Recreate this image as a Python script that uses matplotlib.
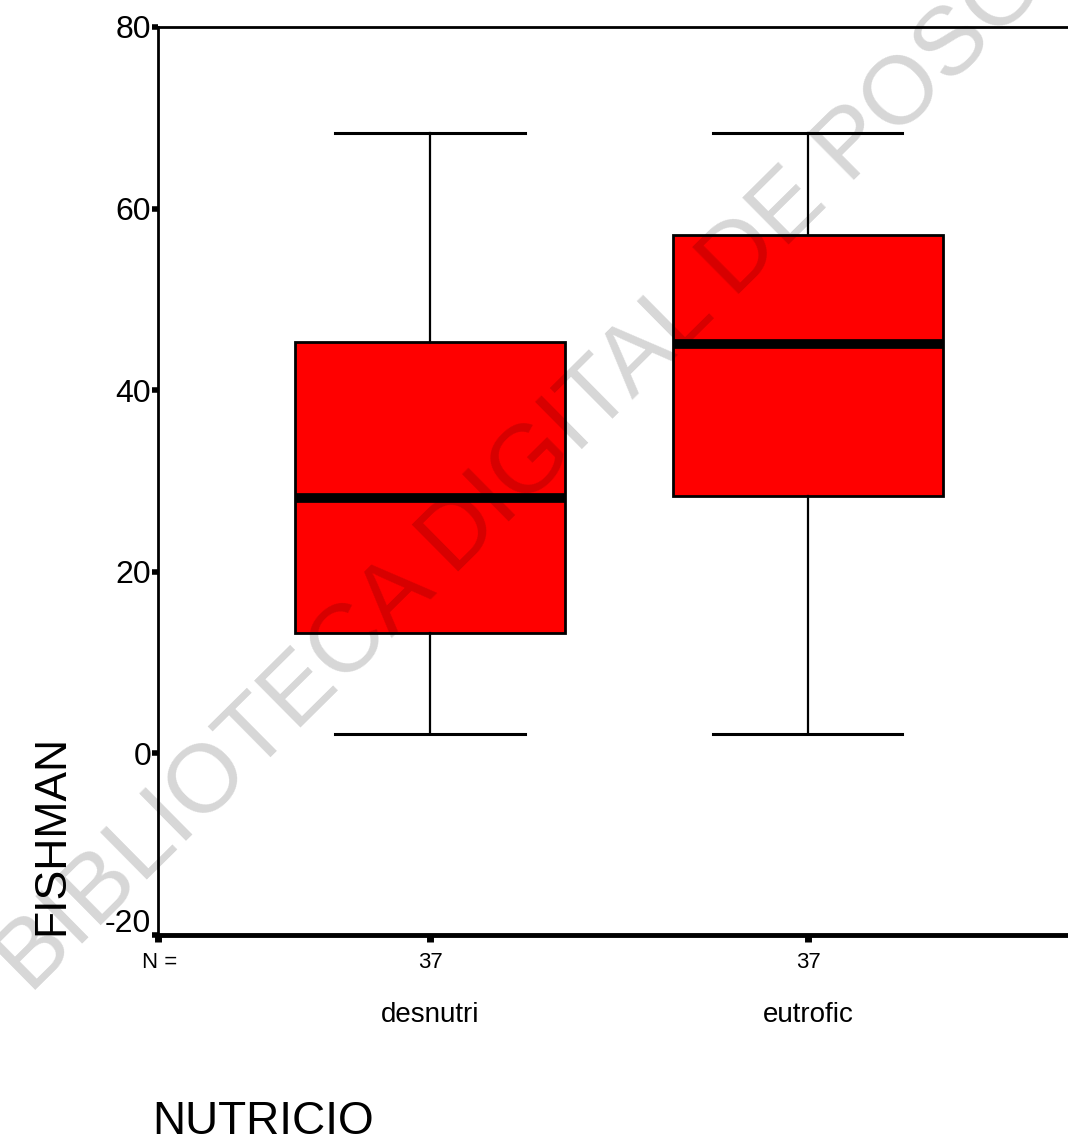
import matplotlib.pyplot as plt
import matplotlib.transforms as mtransforms

# datos (FISHMAN por grupo de NUTRICIO)
grupos = ['desnutri', 'eutrofic']
n_grupo = [37, 37]
bigote_bajo = [2.1, 2.1]
q1 = [13.3, 28.3]
mediana = [28.1, 45.1]
q3 = [45.3, 57.1]
bigote_alto = [68.3, 68.3]
y_ticks = [-20, 0, 20, 40, 60, 80]

plt.rcParams['font.family'] = ['Liberation Sans', 'DejaVu Sans']

fig = plt.figure(figsize=(10.68, 11.42), dpi=100)
ax = fig.add_axes([158 / 1068, 1 - 935 / 1142, 1 - 158 / 1068, (935 - 27) / 1142])

stats = []
for i, g in enumerate(grupos):
    stats.append({'label': g, 'whislo': bigote_bajo[i], 'q1': q1[i], 'med': mediana[i],
                  'q3': q3[i], 'whishi': bigote_alto[i], 'fliers': []})

ax.bxp(stats, positions=[1, 2], widths=0.714, capwidths=0.5, patch_artist=True,
       showfliers=False,
       boxprops=dict(facecolor='#ff0000', edgecolor='black', linewidth=2),
       medianprops=dict(color='black', linewidth=7, solid_capstyle='butt'),
       whiskerprops=dict(color='black', linewidth=1.6),
       capprops=dict(color='black', linewidth=2.2))

ax.set_xlim(1 - 272 / 378, 2 + 260 / 378)
ax.set_ylim(-20, 80)
ax.set_yticks(y_ticks)
ax.set_yticklabels([str(t) for t in y_ticks], fontsize=23)
ax.set_xticks([1 - 272 / 378, 1, 2])
ax.set_xticklabels(['', '', ''])
ax.tick_params(axis='y', direction='out', length=4, width=4, pad=1)
ax.tick_params(axis='x', direction='out', length=5, width=5)

# la etiqueta -20 va un poco por encima de su marca
lbl = ax.get_yticklabels()[0]
lbl.set_transform(lbl.get_transform() + mtransforms.ScaledTranslation(0, 15 / 100, fig.dpi_scale_trans))

ax.spines['right'].set_visible(False)
ax.spines['left'].set_linewidth(2)
ax.spines['top'].set_linewidth(2)
ax.spines['bottom'].set_linewidth(3.5)

# N = y etiquetas de grupo
fig.text(142 / 1068, 1 - 963 / 1142, 'N =', fontsize=16, ha='left', va='center')
for i, g in enumerate(grupos):
    ax.annotate(str(n_grupo[i]), xy=(i + 1, 0), xycoords=('data', 'axes fraction'),
                xytext=(0, -28), textcoords='offset pixels', ha='center', va='center', fontsize=16)
    ax.annotate(g, xy=(i + 1, 0), xycoords=('data', 'axes fraction'),
                xytext=(0, -80), textcoords='offset pixels', ha='center', va='center', fontsize=20)

fig.text(152 / 1068, 1 - 1134 / 1142, 'NUTRICIO', fontsize=33, ha='left', va='baseline')
fig.text(52 / 1068, 1 - 935 / 1142, 'FISHMAN', fontsize=32, rotation=90, ha='center', va='bottom')

# marca de agua
fig.text(30 / 1068, 1 - 995 / 1142, 'BIBLIOTECA DIGITAL DE POSGRADO', fontsize=70,
         rotation=44.7, rotation_mode='anchor', ha='left', va='baseline',
         color='black', alpha=0.16, zorder=10)

fig.savefig('out.png', dpi=100)
